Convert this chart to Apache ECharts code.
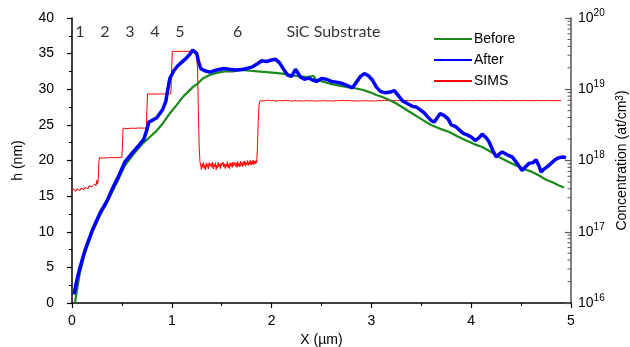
<!DOCTYPE html>
<html>
<head>
<meta charset="utf-8">
<script src="https://cdn.jsdelivr.net/npm/echarts@6/dist/echarts.min.js"></script>
<style>
  html, body { margin: 0; padding: 0; background: #fff; }
  #chart { width: 630px; height: 347px; }
</style>
</head>
<body>
<div id="chart"></div>
<script>
// Surface height profiles, [x (µm), h (nm)]
const beforeProfile = [
  [0.03, 0], [0.05, 1.8], [0.08, 4.3], [0.13, 7.0], [0.20, 9.8], [0.28, 12.3],
  [0.35, 14.1], [0.41, 15.8], [0.46, 17.2], [0.53, 19.3], [0.60, 20.6], [0.66, 21.6],
  [0.71, 22.4], [0.78, 23.3], [0.85, 24.2], [0.91, 25.2], [0.98, 26.6], [1.05, 27.8],
  [1.11, 28.9], [1.16, 29.6], [1.21, 30.3], [1.26, 30.8], [1.31, 31.5], [1.38, 32.0],
  [1.45, 32.3], [1.53, 32.5], [1.61, 32.5], [1.70, 32.7], [1.78, 32.6], [1.86, 32.5],
  [1.95, 32.4], [2.03, 32.3], [2.11, 32.2], [2.19, 32.0], [2.28, 31.8], [2.36, 31.7],
  [2.42, 31.9], [2.44, 31.4], [2.48, 31.2], [2.58, 30.8], [2.68, 30.5], [2.76, 30.3],
  [2.85, 30.1], [2.92, 29.9], [2.98, 29.6], [3.05, 29.2], [3.11, 28.9], [3.18, 28.5],
  [3.25, 28.0], [3.33, 27.3], [3.41, 26.6], [3.50, 25.8], [3.56, 25.3], [3.61, 24.9],
  [3.70, 24.4], [3.78, 24.0], [3.86, 23.4], [3.95, 22.8], [4.03, 22.3], [4.11, 21.9],
  [4.20, 21.2], [4.28, 20.5], [4.36, 19.9], [4.45, 19.3], [4.53, 18.8], [4.61, 18.4],
  [4.68, 17.9], [4.75, 17.3], [4.82, 16.9], [4.88, 16.5], [4.93, 16.2]
];

const afterProfile = [
  [0.02, 1.2], [0.05, 3.3], [0.08, 5.0], [0.13, 7.4], [0.20, 10.1], [0.28, 12.6],
  [0.35, 14.3], [0.41, 16.2], [0.46, 17.6], [0.53, 19.8], [0.60, 21.0], [0.68, 22.3],
  [0.72, 23.0], [0.75, 24.3], [0.77, 25.4], [0.80, 25.6], [0.85, 26.0], [0.88, 26.6],
  [0.91, 27.2], [0.94, 28.3], [0.96, 30.0], [0.98, 31.5], [1.02, 32.6], [1.06, 33.3],
  [1.10, 33.8], [1.14, 34.3], [1.18, 34.9], [1.21, 35.5], [1.23, 35.6], [1.25, 35.0],
  [1.27, 33.8], [1.29, 32.9], [1.33, 32.6], [1.38, 32.4], [1.45, 32.7], [1.52, 32.9],
  [1.58, 32.8], [1.65, 32.7], [1.72, 32.8], [1.80, 33.1], [1.85, 33.5], [1.90, 34.0],
  [1.95, 33.9], [2.00, 34.1], [2.04, 34.2], [2.08, 33.7], [2.12, 32.8], [2.16, 32.0],
  [2.20, 31.8], [2.24, 32.8], [2.26, 32.9], [2.29, 31.7], [2.33, 31.4], [2.37, 31.6],
  [2.41, 31.3], [2.45, 31.1], [2.50, 31.5], [2.55, 31.4], [2.60, 31.1], [2.65, 31.0],
  [2.71, 30.8], [2.76, 30.5], [2.81, 30.2], [2.85, 31.0], [2.89, 31.8], [2.93, 32.2],
  [2.97, 31.9], [3.01, 31.3], [3.05, 30.3], [3.09, 29.7], [3.14, 29.5], [3.19, 29.6],
  [3.23, 29.8], [3.27, 29.1], [3.31, 28.4], [3.36, 28.0], [3.41, 27.6], [3.45, 27.5],
  [3.48, 27.2], [3.52, 26.8], [3.56, 26.2], [3.60, 25.6], [3.63, 25.4], [3.66, 26.0],
  [3.69, 26.6], [3.73, 26.3], [3.77, 25.8], [3.80, 25.0], [3.84, 24.8], [3.88, 24.3],
  [3.92, 23.8], [3.96, 23.6], [4.00, 23.3], [4.04, 22.8], [4.08, 23.2], [4.11, 23.7],
  [4.15, 23.2], [4.18, 22.6], [4.22, 21.3], [4.25, 20.5], [4.28, 20.9], [4.31, 21.2],
  [4.36, 20.8], [4.41, 20.5], [4.46, 19.6], [4.51, 18.6], [4.55, 19.2], [4.58, 19.6],
  [4.62, 19.7], [4.65, 20.1], [4.68, 19.2], [4.70, 18.4], [4.73, 18.8], [4.76, 19.1],
  [4.80, 19.6], [4.84, 20.1], [4.88, 20.4], [4.92, 20.5], [4.95, 20.4]
];

// SIMS doping profile, [x (µm), concentration (at/cm³)]
const simsProfile = [
  // layer 1
  [0.000, 3.7e17], [0.010, 4.0e17], [0.020, 3.8e17], [0.030, 4.1e17], [0.040, 3.7e17],
  [0.050, 4.0e17], [0.060, 3.9e17], [0.070, 4.2e17], [0.080, 3.8e17], [0.090, 4.1e17],
  [0.100, 4.0e17], [0.110, 4.3e17], [0.120, 3.9e17], [0.130, 4.2e17], [0.140, 4.1e17],
  [0.150, 4.4e17], [0.160, 4.0e17], [0.170, 4.4e17], [0.180, 4.2e17], [0.190, 4.6e17],
  [0.200, 4.3e17], [0.210, 4.5e17], [0.220, 4.2e17], [0.230, 4.7e17], [0.240, 4.4e17],
  [0.250, 5.3e17], [0.256, 4.7e17], [0.262, 5.1e17],
  [0.270, 9.5e17],
  // layer 2
  [0.275, 1.10e18], [0.29, 1.12e18], [0.31, 1.08e18], [0.33, 1.15e18], [0.35, 1.09e18],
  [0.37, 1.13e18], [0.39, 1.10e18], [0.41, 1.14e18], [0.43, 1.09e18], [0.45, 1.16e18],
  [0.47, 1.10e18], [0.49, 1.13e18], [0.50, 1.11e18],
  [0.505, 1.6e18],
  // layer 3
  [0.512, 2.85e18], [0.53, 2.92e18], [0.55, 2.80e18], [0.57, 2.90e18], [0.59, 2.84e18],
  [0.61, 2.95e18], [0.63, 2.83e18], [0.65, 2.92e18], [0.67, 2.86e18], [0.69, 2.94e18],
  [0.71, 2.84e18], [0.73, 2.91e18], [0.745, 2.87e18],
  [0.750, 5.0e18],
  // layer 4
  [0.757, 8.6e18], [0.77, 8.85e18], [0.79, 8.55e18], [0.81, 8.8e18], [0.83, 8.6e18],
  [0.85, 8.75e18], [0.87, 8.55e18], [0.89, 8.8e18], [0.91, 8.6e18], [0.93, 8.75e18],
  [0.95, 8.6e18], [0.97, 8.8e18], [0.99, 8.65e18],
  [0.997, 1.6e19],
  // layer 5
  [1.005, 3.4e19], [1.02, 3.46e19], [1.04, 3.39e19], [1.06, 3.45e19], [1.08, 3.40e19],
  [1.10, 3.44e19], [1.12, 3.41e19], [1.14, 3.46e19], [1.16, 3.40e19], [1.18, 3.44e19],
  [1.20, 3.41e19], [1.22, 3.45e19], [1.24, 3.40e19], [1.25, 3.3e19],
  [1.258, 2.0e19], [1.266, 5.0e18], [1.274, 1.6e18], [1.282, 9.6e17],
  // layer 6
  [1.290, 8.6e17], [1.297, 7.5e17], [1.304, 9.0e17], [1.311, 8.0e17], [1.318, 9.4e17],
  [1.325, 7.7e17], [1.332, 8.6e17], [1.339, 7.4e17], [1.346, 9.2e17], [1.353, 8.1e17],
  [1.360, 8.8e17], [1.367, 7.6e17], [1.374, 9.3e17], [1.381, 8.3e17], [1.388, 7.8e17],
  [1.395, 9.1e17], [1.402, 8.0e17], [1.409, 9.5e17], [1.416, 7.6e17], [1.423, 8.8e17],
  [1.430, 8.1e17], [1.437, 9.3e17], [1.444, 7.4e17], [1.451, 8.6e17], [1.458, 7.9e17],
  [1.465, 9.4e17], [1.472, 8.2e17], [1.479, 8.9e17], [1.486, 7.7e17], [1.493, 9.2e17],
  [1.500, 8.4e17], [1.507, 7.9e17], [1.514, 9.5e17], [1.521, 8.1e17], [1.528, 9.0e17],
  [1.535, 7.7e17], [1.542, 8.8e17], [1.549, 8.2e17], [1.556, 9.6e17], [1.563, 7.9e17],
  [1.570, 8.9e17], [1.577, 7.7e17], [1.584, 9.3e17], [1.591, 8.3e17], [1.598, 9.1e17],
  [1.605, 8.0e17], [1.612, 9.5e17], [1.619, 8.4e17], [1.626, 7.9e17], [1.633, 9.4e17],
  [1.640, 8.3e17], [1.647, 9.2e17], [1.654, 8.0e17], [1.661, 9.6e17], [1.668, 8.4e17],
  [1.675, 9.1e17], [1.682, 8.1e17], [1.689, 9.8e17], [1.696, 8.5e17], [1.703, 9.3e17],
  [1.710, 8.2e17], [1.717, 9.6e17], [1.724, 8.6e17], [1.731, 9.9e17], [1.738, 8.3e17],
  [1.745, 9.4e17], [1.752, 8.7e17], [1.759, 1.0e18], [1.766, 8.5e17], [1.773, 9.6e17],
  [1.780, 8.8e17], [1.787, 1.01e18], [1.794, 8.6e17], [1.801, 9.7e17], [1.808, 8.9e17],
  [1.815, 1.02e18], [1.822, 8.7e17], [1.829, 9.8e17], [1.836, 9.0e17], [1.843, 1.0e18],
  [1.850, 9.2e17],
  [1.858, 1.5e18], [1.866, 3.5e18], [1.874, 6.0e18],
  // substrate
  [1.885, 6.9e18], [1.90, 7.0e18], [1.93, 6.85e18], [1.96, 7.05e18], [1.99, 6.9e18],
  [2.02, 7.0e18], [2.05, 6.8e18], [2.08, 6.95e18], [2.11, 6.85e18], [2.14, 7.0e18],
  [2.17, 6.9e18], [2.20, 6.8e18], [2.23, 6.95e18], [2.26, 6.85e18], [2.29, 6.9e18],
  [2.32, 6.8e18], [2.35, 6.95e18], [2.38, 6.85e18], [2.41, 6.9e18], [2.44, 6.8e18],
  [2.47, 6.9e18], [2.50, 6.85e18], [2.53, 6.95e18], [2.56, 6.85e18], [2.59, 6.9e18],
  [2.62, 6.8e18], [2.65, 6.95e18], [2.68, 6.9e18], [2.71, 7.0e18], [2.74, 6.9e18],
  [2.77, 6.95e18], [2.80, 6.85e18], [2.83, 6.9e18], [2.86, 6.8e18], [2.89, 6.9e18],
  [2.92, 6.85e18], [2.95, 6.95e18], [2.98, 6.85e18], [3.01, 6.9e18], [3.04, 6.8e18],
  [3.07, 6.95e18], [3.10, 6.9e18], [3.13, 7.0e18], [3.16, 6.9e18], [3.19, 6.95e18],
  [3.22, 7.0e18], [3.25, 6.9e18], [3.28, 6.95e18], [3.31, 6.85e18], [3.34, 7.0e18],
  [3.37, 6.9e18], [3.40, 6.95e18], [3.43, 6.85e18], [3.46, 7.0e18], [3.49, 6.9e18],
  [3.52, 6.95e18], [3.55, 6.9e18], [3.58, 7.0e18], [3.61, 6.9e18], [3.64, 6.95e18],
  [3.67, 6.85e18], [3.70, 7.0e18], [3.73, 6.9e18], [3.76, 6.95e18], [3.79, 6.9e18],
  [3.82, 7.0e18], [3.85, 6.9e18], [3.88, 6.95e18], [3.91, 6.9e18], [3.94, 7.0e18],
  [3.97, 6.9e18], [4.00, 6.95e18], [4.03, 6.9e18], [4.06, 7.0e18], [4.09, 6.9e18],
  [4.12, 6.95e18], [4.15, 6.85e18], [4.18, 7.0e18], [4.21, 6.9e18], [4.24, 6.95e18],
  [4.27, 6.9e18], [4.30, 7.0e18], [4.33, 6.9e18], [4.36, 6.95e18], [4.39, 6.9e18],
  [4.42, 7.0e18], [4.45, 6.9e18], [4.48, 6.95e18], [4.51, 6.9e18], [4.54, 7.0e18],
  [4.57, 6.9e18], [4.60, 6.95e18], [4.63, 6.9e18], [4.66, 7.0e18], [4.69, 6.9e18],
  [4.72, 6.95e18], [4.75, 6.9e18], [4.78, 7.0e18], [4.81, 6.9e18], [4.84, 6.95e18],
  [4.87, 6.9e18], [4.90, 6.95e18]
];

// Layer labels along the top, [x (µm), h (nm), text]
const layerLabels = [
  [0.08, 38, '1'], [0.33, 38, '2'], [0.58, 38, '3'], [0.83, 38, '4'],
  [1.08, 38, '5'], [1.66, 38, '6'], [2.62, 38, 'SiC Substrate']
];

// Axis ranges
const xRange = [0, 5];
const hRange = [0, 40];
const concDecades = [16, 17, 18, 19, 20];
const minorMantissas = [2, 3, 4, 5, 6, 7, 8, 9];

const minorConcTicks = [];
for (let d = 0; d < concDecades.length - 1; d++) {
  for (const m of minorMantissas) minorConcTicks.push([xRange[1], m * Math.pow(10, concDecades[d])]);
}

const tickFont = { fontFamily: 'Liberation Sans', fontSize: 14, color: '#000' };
const GREEN = '#1a8a1a', BLUE = '#0000ff', RED = '#ff0000';

const chart = echarts.init(document.getElementById('chart'), null, { renderer: 'canvas' });

chart.setOption({
  animation: false,
  backgroundColor: '#fff',
  grid: { left: 72, right: 59, top: 18, bottom: 44, containLabel: false, outerBoundsMode: 'none' },
  legend: {
    data: ['Before', 'After', 'SIMS'],
    orient: 'vertical',
    left: 428,
    top: 27,
    itemWidth: 38,
    itemHeight: 14,
    itemGap: 7,
    itemStyle: { color: 'rgba(0,0,0,0)', borderWidth: 0, opacity: 0 },
    textStyle: { fontFamily: 'Liberation Sans', fontSize: 14, color: '#000', padding: [0, 0, 0, -3] }
  },
  xAxis: {
    type: 'value',
    min: xRange[0], max: xRange[1], interval: 1,
    name: 'X (µm)',
    nameLocation: 'middle',
    nameGap: 28,
    nameTextStyle: tickFont,
    axisLine: { lineStyle: { color: '#000', width: 1.5 } },
    axisTick: { length: 5, lineStyle: { color: '#000', width: 1.2 } },
    minorTick: { show: true, splitNumber: 2, length: 3, lineStyle: { color: '#000', width: 1 } },
    axisLabel: Object.assign({ margin: 11 }, tickFont),
    splitLine: { show: false }
  },
  yAxis: [
    {
      type: 'value',
      min: hRange[0], max: hRange[1], interval: 5,
      name: 'h (nm)',
      nameLocation: 'middle',
      nameRotate: 90,
      nameGap: 47,
      nameTextStyle: tickFont,
      axisLine: { show: true, lineStyle: { color: '#000', width: 1.5 } },
      axisTick: { show: true, length: 5, lineStyle: { color: '#000', width: 1.2 } },
      minorTick: { show: true, splitNumber: 2, length: 3, lineStyle: { color: '#000', width: 1 } },
      axisLabel: Object.assign({ margin: 18 }, tickFont),
      splitLine: { show: false }
    },
    {
      type: 'log',
      logBase: 10,
      min: Math.pow(10, concDecades[0]),
      max: Math.pow(10, concDecades[concDecades.length - 1]),
      position: 'right',
      name: 'Concentration (at/cm{s|3})',
      nameLocation: 'middle',
      nameRotate: 90,
      nameGap: 39,
      nameTextStyle: Object.assign({}, tickFont, {
        rich: { s: { fontFamily: 'Liberation Sans', fontSize: 10, verticalAlign: 'top', lineHeight: 10, color: '#000' } }
      }),
      axisLine: { show: true, lineStyle: { color: '#555', width: 1.5 } },
      axisTick: { show: true, inside: true, length: 6, lineStyle: { color: '#555', width: 1.2 } },
      axisLabel: Object.assign({}, tickFont, {
        margin: 7,
        formatter: v => '10{s|' + Math.round(Math.log10(v)) + '}',
        lineHeight: 20,
        rich: { s: { fontFamily: 'Liberation Sans', fontSize: 10, verticalAlign: 'top', lineHeight: 12, color: '#000' } }
      }),
      splitLine: { show: false }
    }
  ],
  series: [
    {
      name: 'SIMS',
      type: 'line',
      yAxisIndex: 1,
      data: simsProfile,
      showSymbol: false,
      symbol: 'none',
      lineStyle: { color: RED, width: 1 },
      itemStyle: { color: RED },
      z: 2
    },
    {
      name: 'Before',
      type: 'line',
      yAxisIndex: 0,
      data: beforeProfile,
      showSymbol: false,
      symbol: 'none',
      lineStyle: { color: GREEN, width: 2.2 },
      itemStyle: { color: GREEN },
      z: 3
    },
    {
      name: 'After',
      type: 'line',
      yAxisIndex: 0,
      data: afterProfile,
      showSymbol: false,
      symbol: 'none',
      lineStyle: { color: BLUE, width: 3.5 },
      itemStyle: { color: BLUE },
      z: 4
    },
    {
      // logarithmic minor ticks on the concentration axis
      type: 'custom',
      yAxisIndex: 1,
      data: minorConcTicks,
      silent: true,
      clip: false,
      renderItem: (params, api) => {
        const p = api.coord([api.value(0), api.value(1)]);
        return {
          type: 'line',
          shape: { x1: p[0] - 3.5, y1: p[1], x2: p[0], y2: p[1] },
          style: { stroke: '#555', lineWidth: 1 }
        };
      },
      z: 5
    },
    {
      type: 'scatter',
      yAxisIndex: 0,
      data: layerLabels,
      symbolSize: 0,
      silent: true,
      label: {
        show: true,
        position: 'inside',
        formatter: p => p.data[2],
        fontFamily: 'Lato',
        fontSize: 16,
        color: '#000'
      },
      z: 6
    }
  ]
});
</script>
</body>
</html>
